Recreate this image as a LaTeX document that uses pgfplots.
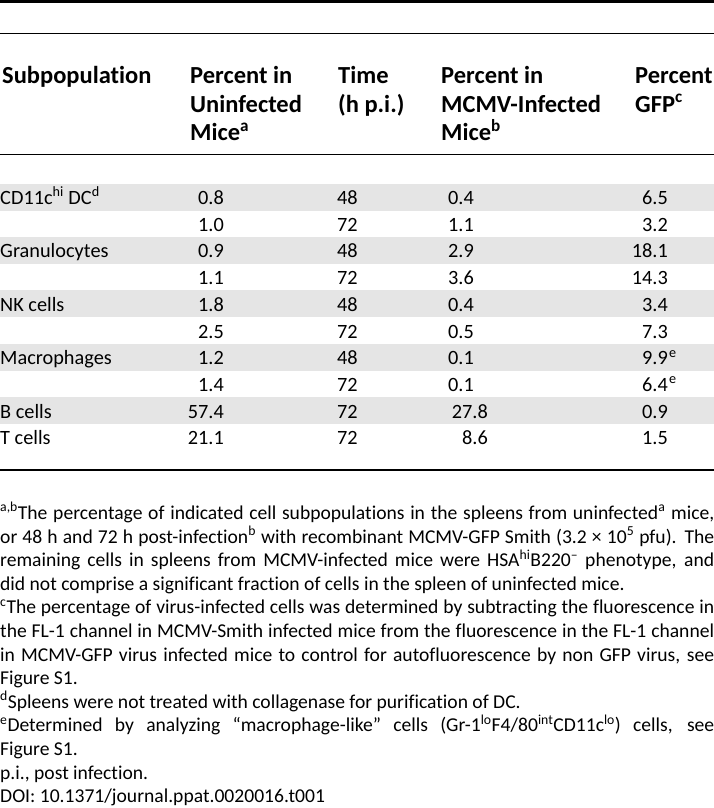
\documentclass[border=0pt]{standalone}
\usepackage{pgfplots}
\usepackage{pgfplotstable}
\pgfplotsset{compat=1.18}
\usepackage{fontspec}
\setmainfont{Carlito}[Ligatures={NoCommon}]
\definecolor{rowgray}{RGB}{229,229,229}
\newcommand\bodyfont{\fontsize{20.3}{24}\selectfont}
\newcommand\notefont{\fontsize{19.6}{23.6}\selectfont}
\newcommand\headfont{\bfseries\fontsize{24.5}{28.5}\selectfont}
\newcommand\sj[1]{\makebox[714pt][s]{#1}}
\pgfplotstableread{
row uninf time inf gfp
0 0.8 48 0.4 6.5
1 1.0 72 1.1 3.2
2 0.9 48 2.9 18.1
3 1.1 72 3.6 14.3
4 1.8 48 0.4 3.4
5 2.5 72 0.5 7.3
6 1.2 48 0.1 9.9
7 1.4 72 0.1 6.4
8 57.4 72 27.8 0.9
9 21.1 72 8.6 1.5
}\tabledata
\begin{document}
\begin{tikzpicture}
\begin{axis}[width=714pt, height=808pt, scale only axis,
  xmin=0, xmax=714, ymin=0, ymax=808, y dir=reverse,
  hide axis, clip=false,
  every node near coord/.style={font=\bodyfont, inner sep=0pt, text=black}]
% shaded rows
\fill[rowgray] (axis cs:0,183.5) rectangle (axis cs:714,210.5);
\fill[rowgray] (axis cs:0,236.9) rectangle (axis cs:714,263.9);
\fill[rowgray] (axis cs:0,290.3) rectangle (axis cs:714,317.3);
\fill[rowgray] (axis cs:0,343.7) rectangle (axis cs:714,370.7);
\fill[rowgray] (axis cs:0,397.1) rectangle (axis cs:714,424.1);
% rules
\draw[line width=2.6pt] (axis cs:0,1.3) -- (axis cs:714,1.3);
\draw[line width=1.5pt] (axis cs:0,33.5) -- (axis cs:714,33.5);
\draw[line width=1.5pt] (axis cs:0,154.5) -- (axis cs:714,154.5);
\draw[line width=2.8pt] (axis cs:0,470) -- (axis cs:714,470);
% header
\begin{scope}[every node/.style={anchor=base west, inner sep=0pt, font=\headfont}]
\node at (axis cs:2,83.5) {Subpopulation};
\node at (axis cs:190,83.5) {Percent in};
\node at (axis cs:190,112) {Uninfected};
\node at (axis cs:190,140.5) {Mice\textsuperscript{a}};
\node at (axis cs:338,83.5) {Time};
\node at (axis cs:338,112) {(h p.i.)};
\node at (axis cs:441,83.5) {Percent in};
\node at (axis cs:441,112) {MCMV-Infected};
\node at (axis cs:441,140.5) {Mice\textsuperscript{b}};
\node at (axis cs:635,83.5) {Percent};
\node at (axis cs:635,112) {GFP\textsuperscript{c}};
\end{scope}
% first column
\begin{scope}[every node/.style={anchor=base west, inner sep=0pt, font=\bodyfont}]
\node at (axis cs:0,204.5) {CD11c\textsuperscript{hi} DC\textsuperscript{d}};
\node at (axis cs:0,257.9) {Granulocytes};
\node at (axis cs:0,311.3) {NK cells};
\node at (axis cs:0,364.7) {Macrophages};
\node at (axis cs:0,418.1) {B cells};
\node at (axis cs:0,444.8) {T cells};
\node at (axis cs:669,364.7) {\textsuperscript{e}};
\node at (axis cs:669,391.4) {\textsuperscript{e}};
\end{scope}
% numeric columns
\addplot[draw=none, mark=none, point meta=explicit symbolic,
  nodes near coords={\pgfplotspointmeta},
  nodes near coords style={anchor=base east}]
  table[x expr=224, y expr=204.5+26.7*\thisrow{row}, meta=uninf] {\tabledata};
\addplot[draw=none, mark=none, point meta=explicit symbolic,
  nodes near coords={\pgfplotspointmeta},
  nodes near coords style={anchor=base west}]
  table[x expr=337, y expr=204.5+26.7*\thisrow{row}, meta=time] {\tabledata};
\addplot[draw=none, mark=none, point meta=explicit symbolic,
  nodes near coords={\pgfplotspointmeta},
  nodes near coords style={anchor=base west},
  skip coords between index={8}{10}]
  table[x expr=448, y expr=204.5+26.7*\thisrow{row}, meta=inf] {\tabledata};
\addplot[draw=none, mark=none, point meta=explicit symbolic,
  nodes near coords={\pgfplotspointmeta},
  nodes near coords style={anchor=base east},
  skip coords between index={0}{8}]
  table[x expr=488, y expr=204.5+26.7*\thisrow{row}, meta=inf] {\tabledata};
\addplot[draw=none, mark=none, point meta=explicit symbolic,
  nodes near coords={\pgfplotspointmeta},
  nodes near coords style={anchor=base east}]
  table[x expr=668, y expr=204.5+26.7*\thisrow{row}, meta=gfp] {\tabledata};
% footnotes
\begin{scope}[every node/.style={anchor=base west, inner sep=0pt, font=\notefont}]
\node at (axis cs:0,519.5) {\sj{\textsuperscript{a,b}The percentage of indicated cell subpopulations in the spleens from uninfected\textsuperscript{a} mice,}};
\node at (axis cs:0,543.1) {\sj{or 48 h and 72 h post-infection\textsuperscript{b} with recombinant MCMV-GFP Smith (3.2 × 10\textsuperscript{5} pfu). The}};
\node at (axis cs:0,566.7) {\sj{remaining cells in spleens from MCMV-infected mice were HSA\textsuperscript{hi}B220\textsuperscript{–} phenotype, and}};
\node at (axis cs:0,590.3) {did not comprise a significant fraction of cells in the spleen of uninfected mice.};
\node at (axis cs:0,613.9) {\sj{\textsuperscript{c}The percentage of virus-infected cells was determined by subtracting the fluorescence in}};
\node at (axis cs:0,637.5) {\sj{the FL-1 channel in MCMV-Smith infected mice from the fluorescence in the FL-1 channel}};
\node at (axis cs:0,661.1) {\sj{in MCMV-GFP virus infected mice to control for autofluorescence by non GFP virus, see}};
\node at (axis cs:0,684.7) {Figure S1.};
\node at (axis cs:0,708.3) {\textsuperscript{d}Spleens were not treated with collagenase for purification of DC.};
\node at (axis cs:0,731.9) {\sj{\textsuperscript{e}Determined by analyzing “macrophage-like” cells (Gr-1\textsuperscript{lo}F4/80\textsuperscript{int}CD11c\textsuperscript{lo}) cells, see}};
\node at (axis cs:0,755.5) {Figure S1.};
\node at (axis cs:0,779.1) {p.i., post infection.};
\node at (axis cs:0,802.7) {DOI: 10.1371/journal.ppat.0020016.t001};
\end{scope}
\end{axis}
\pgfresetboundingbox
\useasboundingbox (0,0) rectangle (714pt,808pt);
\end{tikzpicture}
\end{document}
